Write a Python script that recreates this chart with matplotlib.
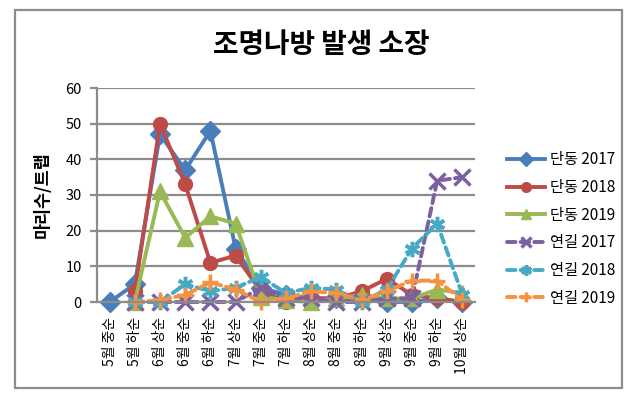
import numpy as np
import matplotlib
matplotlib.use("Agg")
from matplotlib import pyplot as plt
from matplotlib.patches import Rectangle

plt.rcParams['font.family'] = ['Noto Sans CJK KR', 'DejaVu Sans']

categories = ['5월 중순', '5월 하순', '6월 상순', '6월 중순', '6월 하순',
              '7월 상순', '7월 중순', '7월 하순', '8월 상순', '8월 중순',
              '8월 하순', '9월 상순', '9월 중순', '9월 하순', '10월 상순']

nan = np.nan
dandong_2017 = [0, 5, 47, 37, 48, 15, 4, 2, 1, 1, 1, 0, 0, 1, 0]
dandong_2018 = [nan, 3, 50, 33, 11, 13, 3, 0, 1, 1, 3, 6.5, 2, 1, 0]
dandong_2019 = [nan, 0, 31, 18, 24, 22, 1.5, 0.5, 0, 1, 2, 1, 1, 3.5, 2.5]
yeongil_2017 = [nan, 0, 0, 0, 0, 0, 4, 1, 1, 0, 0, 1, 1, 34, 35]
yeongil_2018 = [nan, 0, 0, 5, 3, 4, 7, 2.5, 4, 3.5, 0, 3.5, 15, 22, 2]
yeongil_2019 = [nan, 0, 0.5, 2, 5.5, 3.5, 0, 1, 3, 2.5, 0.5, 3, 6, 6, 0.5]

series = [
    ('단동 2017', dandong_2017, '#4A7EBB', 'D', '-'),
    ('단동 2018', dandong_2018, '#BE4B48', 'o', '-'),
    ('단동 2019', dandong_2019, '#98B954', '^', '-'),
    ('연길 2017', yeongil_2017, '#7D60A0', 'x', '--'),
    ('연길 2018', yeongil_2018, '#46AAC5', (6, 2, 0), '--'),
    ('연길 2019', yeongil_2019, '#F69240', '+', '--'),
]

fig = plt.figure(figsize=(6.42, 4.08), dpi=100)
fig.patches.append(Rectangle((15/642, 1-388/408), (622-15)/642, (388-10)/408,
                             transform=fig.transFigure, fill=False,
                             edgecolor='#8C8C8C', linewidth=1.6))

ax = fig.add_axes([97/642, 1-302/408, (475-97)/642, (302-88)/408])
x = np.arange(len(categories))

for name, vals, col, mk, ls in series:
    ms = 10 if mk in ('D', 'o') else 11
    line, = ax.plot(x, vals, color=col, marker=mk, markersize=ms, linewidth=2.8,
                    linestyle=ls, label=name, markeredgewidth=2.5 if ls == '--' else 1,
                    markeredgecolor=col, markerfacecolor=col, clip_on=False)
    if ls == '--':
        line.set_dashes((2.2, 1.3))
        line.set_dash_capstyle('round')

ax.set_xlim(-0.5, 14.5)
ax.set_ylim(0, 60)
ax.set_yticks(range(0, 61, 10))
ax.yaxis.grid(True, color='#8C8C8C', linewidth=1.6)
ax.set_axisbelow(True)
for s in ('top', 'right'):
    ax.spines[s].set_visible(False)
for s in ('left', 'bottom'):
    ax.spines[s].set_color('#8C8C8C')
    ax.spines[s].set_linewidth(1.6)
ax.tick_params(axis='y', length=5, width=1.6, color='#8C8C8C', labelsize=10.5, pad=6)
ax.tick_params(axis='x', length=0, pad=11)
ax.set_xticks(x)
ax.set_xticklabels(categories, rotation=90, fontsize=10, va='top', ha='center')

ax.set_ylabel('마리수/트랩', fontsize=12.5, fontweight='bold', labelpad=10)
fig.text(321/642, 1-45/408, '조명나방 발생 소장', fontsize=20, fontweight='bold',
         ha='center', va='center')

leg = ax.legend(loc='center left', bbox_to_anchor=(493/642, 1-229/408),
                bbox_transform=fig.transFigure, frameon=False, fontsize=11,
                handlelength=2.5, labelspacing=0.7, handletextpad=0.3,
                markerscale=0.7)

fig.savefig('out.png', dpi=100)
